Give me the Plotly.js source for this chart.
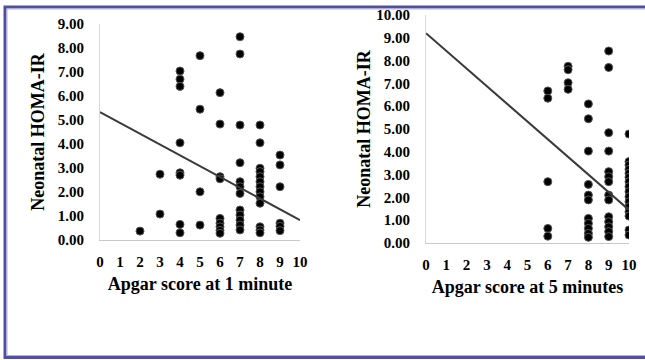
<!DOCTYPE html>
<html>
<head>
<meta charset="utf-8">
<script src="https://cdn.plot.ly/plotly-3.0.1.min.js"></script>
<style>html,body{margin:0;padding:0;background:#fff;}#chart{width:645px;height:360px;}</style>
</head>
<body>
<div id="chart"></div>
<script>
// Apgar at 1 minute vs neonatal HOMA-IR
const apgar1X = [2,
  3,3,
  4,4,4,4,4,4,4,4,
  5,5,5,5,
  6,6,6,6,6,6,6,6,6,
  7,7,7,7,7,7,7,7,7,7,7,7,
  8,8,8,8,8,8,8,8,8,8,8,8,8,
  9,9,9,9,9,9];
const apgar1Y = [0.37,
  2.74,1.08,
  7.04,6.70,6.40,4.05,2.80,2.70,0.65,0.30,
  7.68,5.45,2.01,0.62,
  6.14,4.83,2.64,2.55,0.90,0.70,0.55,0.40,0.28,
  8.47,7.75,4.79,3.22,2.43,2.22,1.94,1.25,1.04,0.83,0.62,0.42,
  4.79,4.05,2.99,2.85,2.64,2.43,2.22,2.01,1.80,1.53,0.55,0.42,0.30,
  3.54,3.13,2.22,0.70,0.57,0.39];
const trend1X = [0, 10];
const trend1Y = [5.33, 0.83];

// Apgar at 5 minutes vs neonatal HOMA-IR
const apgar5X = [6,6,6,6,6,
  7,7,7,7,
  8,8,8,8,8,8,8,8,8,8,8,
  9,9,9,9,9,9,9,9,9,9,9,9,9,9,
  10,10,10,10,10,10,10,10,10,10,10,10,10,10,10,10];
const apgar5Y = [6.67,6.35,2.69,0.64,0.30,
  7.75,7.60,7.03,6.74,
  6.10,5.45,4.03,2.57,2.10,1.89,1.08,0.86,0.64,0.42,0.25,
  8.42,7.70,4.84,4.03,3.13,2.91,2.69,2.10,1.89,1.15,0.93,0.71,0.50,0.28,
  4.78,3.57,3.42,3.23,3.06,2.88,2.69,2.47,2.25,2.03,1.81,1.59,1.37,1.18,0.57,0.35];
const trend5X = [0, 10];
const trend5Y = [9.20, 1.45];

const xTickVals = [0,1,2,3,4,5,6,7,8,9,10];
const yTitle = "Neonatal HOMA-IR";
const xTitle1 = "Apgar score at 1 minute";
const xTitle5 = "Apgar score at 5 minutes";

const FONT = "Liberation Serif, Times New Roman, serif";
const marker = {color: "#000000", size: 8, line: {color: "#555555", width: 1}};
const trendLine = {color: "#3a3a3a", width: 2};

const traces = [
  {x: apgar1X, y: apgar1Y, type: "scatter", mode: "markers", marker: marker, xaxis: "x", yaxis: "y"},
  {x: trend1X, y: trend1Y, type: "scatter", mode: "lines", line: trendLine, xaxis: "x", yaxis: "y"},
  {x: apgar5X, y: apgar5Y, type: "scatter", mode: "markers", marker: marker, xaxis: "x2", yaxis: "y2"},
  {x: trend5X, y: trend5Y, type: "scatter", mode: "lines", line: trendLine, xaxis: "x2", yaxis: "y2"}
];

function xAxis(domain, anchor, title) {
  return {
    domain: domain, anchor: anchor, range: [0, 10],
    tickmode: "array", tickvals: xTickVals, ticktext: xTickVals.map(String),
    showgrid: false, zeroline: false, showline: true, linecolor: "#c8c8c8", linewidth: 1,
    ticks: "", ticklabelstandoff: 8,
    tickfont: {family: FONT, size: 15, color: "#000", weight: "bold"},
    title: {text: title, font: {family: FONT, size: 18, color: "#000", weight: "bold"}, standoff: 8},
    fixedrange: true
  };
}
function yAxis(domain, anchor, range, dtick, standoff) {
  return {
    domain: domain, anchor: anchor, range: range, dtick: dtick, tickformat: ".2f",
    showgrid: false, zeroline: false, showline: true, linecolor: "#d9d9d9", linewidth: 1,
    ticks: "", ticklabelstandoff: 12,
    tickfont: {family: FONT, size: 15, color: "#000", weight: "bold"},
    title: {text: yTitle, font: {family: FONT, size: 18, color: "#000", weight: "bold"}, standoff: standoff},
    fixedrange: true
  };
}

const W = 645, H = 360;
const layout = {
  width: W, height: H,
  margin: {l: 0, r: 0, t: 0, b: 0},
  paper_bgcolor: "#ffffff", plot_bgcolor: "#ffffff",
  showlegend: false,
  xaxis: xAxis([100 / W, 300 / W], "y", xTitle1),
  yaxis: yAxis([(H - 240) / H, (H - 24) / H], "x", [0, 9], 1, 8),
  xaxis2: xAxis([426 / W, 629 / W], "y2", xTitle5),
  yaxis2: yAxis([(H - 243) / H, (H - 15) / H], "x2", [0, 10], 1, 0),
  shapes: [
    {type: "path", xref: "paper", yref: "paper",
     path: "M 1.05 " + ((H - 7) / H) + " L " + (5 / W) + " " + ((H - 7) / H) + " L " + (5 / W) + " " + ((H - 357.5) / H) + " L 1.05 " + ((H - 357.5) / H),
     line: {color: "#50509e", width: 3}},
    {type: "path", xref: "paper", yref: "paper",
     path: "M 1.05 " + ((H - 9) / H) + " L " + (7 / W) + " " + ((H - 9) / H) + " L " + (7 / W) + " " + ((H - 355.5) / H) + " L 1.05 " + ((H - 355.5) / H),
     line: {color: "#b4b4dc", width: 1}}
  ]
};

Plotly.newPlot("chart", traces, layout, {displayModeBar: false, staticPlot: true});
</script>
</body>
</html>
